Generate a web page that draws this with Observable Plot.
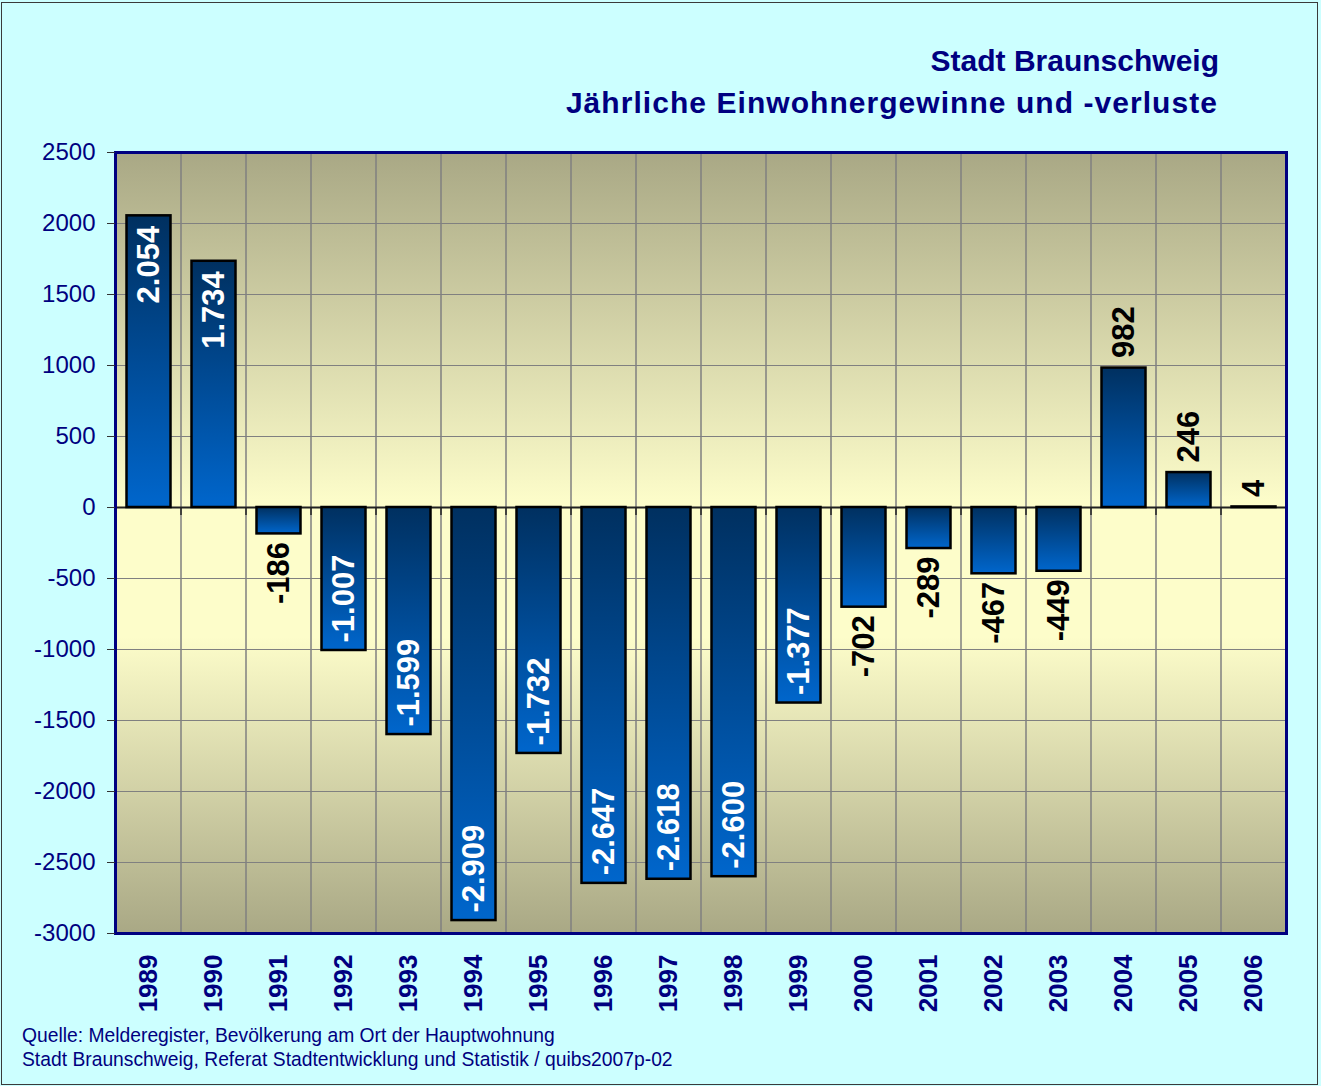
<!DOCTYPE html>
<html>
<head>
<meta charset="utf-8">
<script src="https://cdn.jsdelivr.net/npm/d3@7"></script>
<script src="https://cdn.jsdelivr.net/npm/@observablehq/plot@0.6"></script>
<style>
  html, body { margin: 0; padding: 0; }
  body {
    width: 1321px; height: 1086px; background: #ccffff; position: relative; overflow: hidden;
    font-family: "Liberation Sans", Arial, Helvetica, sans-serif;
  }
  #border { position: absolute; left: 1px; top: 2px; width: 1315px; height: 1081px; border: 1px solid #3a3a3a; box-sizing: content-box; }
  #chart { position: absolute; left: 0; top: 0; }
  .title { position: absolute; color: #000080; font-weight: bold; font-size: 30px; line-height: 30px; white-space: nowrap; }
  #foot { position: absolute; left: 22px; top: 1024px; color: #000080; font-size: 19.3px; line-height: 24px; white-space: nowrap; }
</style>
</head>
<body>
<div id="border"></div>
<div id="chart"></div>
<div class="title" style="right:102px; top:46px;">Stadt Braunschweig</div>
<div class="title" style="right:103px; top:88px; letter-spacing:1.05px;">Jährliche Einwohnergewinne und -verluste</div>
<div id="foot">Quelle: Melderegister, Bevölkerung am Ort der Hauptwohnung<br>Stadt Braunschweig, Referat Stadtentwicklung und Statistik / quibs2007p-02</div>
<script>
// ---- data ----
const years = ["1989","1990","1991","1992","1993","1994","1995","1996","1997","1998","1999","2000","2001","2002","2003","2004","2005","2006"];
const values = [2054, 1734, -186, -1007, -1599, -2909, -1732, -2647, -2618, -2600, -1377, -702, -289, -467, -449, 982, 246, 4];
const yTicks = [-3000, -2500, -2000, -1500, -1000, -500, 0, 500, 1000, 1500, 2000, 2500];
const yDomain = [-3000, 2500];
const insideThreshold = 1000;

const rows = years.map((year, i) => ({year, value: values[i]}));
const de = d3.formatLocale({decimal: ",", thousands: ".", grouping: [3], currency: ["", "€"], minus: "-"});
const fmt = de.format(",d");
const inside = rows.filter(d => Math.abs(d.value) >= insideThreshold);
const outside = rows.filter(d => Math.abs(d.value) < insideThreshold);

const font = "'Liberation Sans', Arial, Helvetica, sans-serif";

// small ticks hanging below the zero line at category boundaries
function zeroTicks(index, scales) {
  const x = scales.x, y = scales.y;
  const bw = typeof x.bandwidth === "function" ? x.bandwidth() : x.bandwidth;
  const g = d3.create("svg:g");
  const y0 = y(0);
  const edges = years.map(v => x(v)).concat([x(years[years.length - 1]) + bw]);
  g.selectAll("line").data(edges).join("line")
    .attr("x1", d => d).attr("x2", d => d)
    .attr("y1", y0).attr("y2", y0 + 8)
    .attr("stroke", "#222").attr("stroke-width", 1.5);
  return g.node();
}

const labelCommon = {x: "year", y: "value", text: d => fmt(d.value), rotate: -90, fontSize: 31, fontWeight: "bold"};

const plot = Plot.plot({
  width: 1321,
  height: 1020,
  marginTop: 152,
  marginBottom: 87,
  marginLeft: 115,
  marginRight: 35,
  style: {background: "transparent", fontFamily: font, overflow: "visible"},
  x: {type: "band", domain: years, padding: 0, label: null},
  y: {domain: yDomain, label: null},
  marks: [
    Plot.frame({fill: "url(#bgGrad)", stroke: "none"}),
    Plot.gridY(yTicks, {stroke: "#808080", strokeOpacity: 1, strokeWidth: 1}),
    Plot.barY(years, {x: d => d, y1: () => yDomain[0], y2: () => yDomain[1], fill: "none", stroke: "#808080", strokeWidth: 1}),
    Plot.ruleY([0], {stroke: "#222", strokeWidth: 2}),
    zeroTicks,
    Plot.barY(rows, {x: "year", y: "value", fill: "url(#barGrad)", stroke: "#000", strokeWidth: 2.5, insetLeft: 10.5, insetRight: 10.5}),
    Plot.frame({stroke: "#000080", strokeWidth: 3}),
    Plot.axisY(yTicks, {tickSize: 8, tickPadding: 12, stroke: "#333", fill: "#000080", fontSize: 24, tickFormat: d => String(d), label: null}),
    Plot.axisX({tickSize: 0, tickPadding: 21, tickRotate: -90, fill: "#000080", fontSize: 26, fontWeight: "bold", label: null}),
    Plot.text(inside.filter(d => d.value > 0), {...labelCommon, textAnchor: "end", dy: 10, fill: "white"}),
    Plot.text(inside.filter(d => d.value < 0), {...labelCommon, textAnchor: "start", dy: -8, fill: "white"}),
    Plot.text(outside.filter(d => d.value >= 0), {...labelCommon, textAnchor: "start", dy: -10, fill: "black"}),
    Plot.text(outside.filter(d => d.value < 0), {...labelCommon, textAnchor: "end", dy: 8, fill: "black"})
  ]
});

const defs = d3.select(plot).insert("defs", ":first-child");
const bg = defs.append("linearGradient").attr("id", "bgGrad").attr("x1", 0).attr("y1", 0).attr("x2", 0).attr("y2", 1);
[[0, "#a9a885"], [0.45, "#fdfdca"], [0.62, "#fdfdca"], [1, "#a9a885"]].forEach(([o, c]) =>
  bg.append("stop").attr("offset", o).attr("stop-color", c));
const bar = defs.append("linearGradient").attr("id", "barGrad").attr("x1", 0).attr("y1", 0).attr("x2", 0).attr("y2", 1);
[[0, "#003060"], [1, "#0066cc"]].forEach(([o, c]) =>
  bar.append("stop").attr("offset", o).attr("stop-color", c));

document.getElementById("chart").appendChild(plot);
</script>
</body>
</html>
